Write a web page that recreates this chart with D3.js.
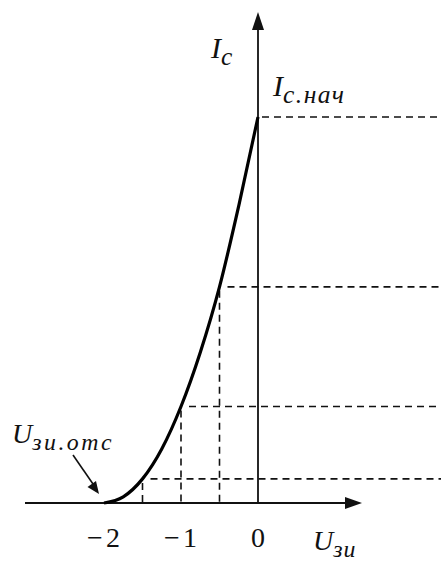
<!DOCTYPE html>
<html>
<head>
<meta charset="utf-8">
<script src="https://cdn.jsdelivr.net/npm/d3@7"></script>
<style>
  body { margin: 0; background: #fff; }
</style>
</head>
<body>
<svg width="441" height="564"></svg>
<script>
var svg = d3.select("svg");

// transfer characteristic Ic(Uзи) (Ic relative to Ic.нач)
var u_vals  = [-2, -1.75, -1.5, -1.25, -1, -0.75, -0.5, -0.25, 0];
var ic_vals = [0, 0.016, 0.0625, 0.14, 0.25, 0.39, 0.56, 0.77, 1.0];

// points marked with dashed projections
var mark_u  = [-1.5, -1, -0.5, 0];
var mark_ic = [0.0625, 0.25, 0.56, 1.0];

var tick_vals   = [-2, -1, 0];
var tick_labels = ["\u22122", "\u22121", "0"];

var serif = "'Liberation Serif', 'DejaVu Serif', serif";

var x = d3.scaleLinear().domain([-2, 0]).range([104, 258]);
var y = d3.scaleLinear().domain([0, 1]).range([503, 117]);

var pts = u_vals.map(function (u, i) { return [u, ic_vals[i]]; });

// dashed helper lines
var dash = svg.append("g")
    .attr("stroke", "#111")
    .attr("stroke-width", 1.6)
    .attr("stroke-dasharray", "7,5");

mark_u.forEach(function (u, i) {
    // horizontal line to right edge
    dash.append("line")
        .attr("x1", u == 0 ? x(0) + 4 : x(u) + 8)
        .attr("x2", 441)
        .attr("y1", y(mark_ic[i]))
        .attr("y2", y(mark_ic[i]));
    if (u != 0) {
        dash.append("line")
            .attr("x1", x(u)).attr("x2", x(u))
            .attr("y1", y(mark_ic[i]) + 4)
            .attr("y2", y(0));
    }
});

// axes
var ax = svg.append("g").attr("stroke", "#111").attr("stroke-width", 1.8);
ax.append("line").attr("x1", 25).attr("x2", 350).attr("y1", y(0)).attr("y2", y(0));
ax.append("line").attr("x1", x(0)).attr("x2", x(0)).attr("y1", y(0)).attr("y2", 25);

svg.append("path")
    .attr("d", "M" + 362 + "," + y(0) + " l-17,-6 l0,12 z")
    .attr("fill", "#111");
svg.append("path")
    .attr("d", "M" + x(0) + "," + 12 + " l-6,18 l12,0 z")
    .attr("fill", "#111");

// characteristic curve
var line = d3.line()
    .x(function (d) { return x(d[0]); })
    .y(function (d) { return y(d[1]); })
    .curve(d3.curveMonotoneX);

svg.append("path")
    .datum(pts)
    .attr("d", line)
    .attr("fill", "none")
    .attr("stroke", "#000")
    .attr("stroke-width", 3.2);

// tick labels
svg.selectAll("text.num")
    .data(tick_vals)
    .enter().append("text")
    .attr("class", "num")
    .attr("x", function (d, i) { return x(d) + (i < 2 ? 1 : 0); })
    .attr("y", 547)
    .attr("text-anchor", "middle")
    .attr("font-family", serif)
    .attr("fill", "#111")
    .style("font-size", "28px")
    .style("letter-spacing", function (d) { return d < 0 ? "3px" : "0px"; })
    .text(function (d, i) { return tick_labels[i]; });

// labels
function label(xp, yp, main, sub, size, spacing) {
    var t = svg.append("text").attr("x", xp).attr("y", yp)
        .attr("font-family", serif)
        .attr("font-style", "italic")
        .attr("fill", "#111")
        .style("font-size", size + "px");
    t.append("tspan").text(main);
    t.append("tspan").attr("dy", 7)
        .style("font-size", (size * 0.85) + "px")
        .style("letter-spacing", spacing + "px")
        .text(sub);
}
label(211, 58, "I", "c", 30, 0);
label(273, 96, "I", "c.нач", 30, 1.5);
label(12, 443, "U", "зи.отс", 28, 2.5);
label(313, 550, "U", "зи", 28, 1);

// arrow to cutoff point
svg.append("line")
    .attr("x1", 73).attr("y1", 455)
    .attr("x2", 93).attr("y2", 484)
    .attr("stroke", "#111").attr("stroke-width", 1.6);
svg.append("path")
    .attr("d", "M99,494 l-11.5,-7 l8.5,-6 z")
    .attr("fill", "#111");
</script>
</body>
</html>
